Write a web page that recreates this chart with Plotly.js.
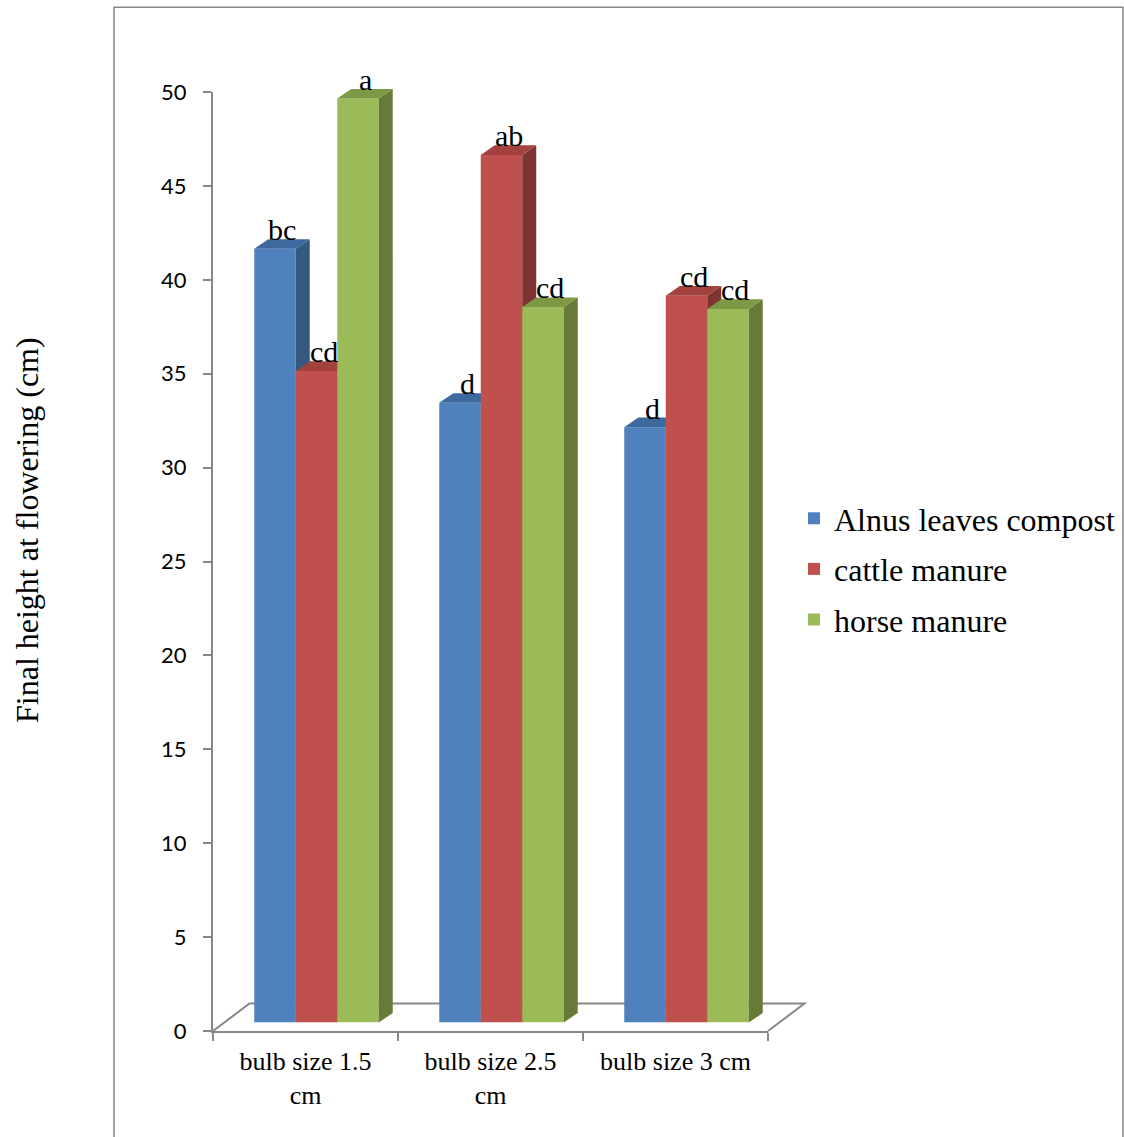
<!DOCTYPE html>
<html>
<head>
<meta charset="utf-8">
<script src="https://cdn.plot.ly/plotly-3.0.1.min.js"></script>
<style>
  html, body { margin: 0; padding: 0; background: #ffffff; }
  #chart { width: 1124px; height: 1137px; }
</style>
</head>
<body>
<div id="chart"></div>
<script>
// Final plant height at flowering (cm) by bulb size and organic amendment
const categories = ["bulb size 1.5 cm", "bulb size 2.5 cm", "bulb size 3 cm"];
const tickLabels = ["bulb size 1.5<br>cm", "bulb size 2.5<br>cm", "bulb size 3 cm"];
const seriesNames = ["Alnus leaves compost", "cattle manure", "horse manure"];

const alnusHeight  = [41.2, 33.0, 31.7];
const cattleHeight = [34.7, 46.2, 38.7];
const horseHeight  = [49.2, 38.1, 38.0];

// mean separation letters shown above each column
const alnusLetters  = ["bc", "d", "d"];
const cattleLetters = ["cd", "ab", "cd"];
const horseLetters  = ["a", "cd", "cd"];

const yTitle = "Final height at flowering (cm)";

// ---- page geometry (px) ----
const W = 1124, H = 1137;
const M = { l: 213, r: 320, t: 83, b: 106, autoexpand: false };
const plotW = W - M.l - M.r;          // whole drawing area, floor included
const plotH = H - M.t - M.b;
const frontW = 555, frontH = 939;     // front wall where the axes sit
const yMax = 50;
const nCat = categories.length;
const barShift = { x: 11, y: 8.4 };   // columns stand part-way into the floor
const depth = { x: 14, y: 9.7 };      // column thickness seen in oblique view
const floorDepth = { x: 36.5, y: 27.5 };
const barWidth = 0.2243;              // in category units

const pxPerX = frontW / nCat;
const pxPerY = frontH / yMax;
const dxu = depth.x / pxPerX;
const dyu = depth.y / pxPerY;

const AXIS_GREY = "#878787";
const SERIF = "Liberation Serif, Times New Roman, serif";

const series = [
  { name: seriesNames[0], values: alnusHeight,  letters: alnusLetters,
    front: "#4F81BD", top: "#3D6A9E", side: "#35587F" },
  { name: seriesNames[1], values: cattleHeight, letters: cattleLetters,
    front: "#C0504D", top: "#A3413E", side: "#7E3432" },
  { name: seriesNames[2], values: horseHeight,  letters: horseLetters,
    front: "#9BBB59", top: "#7E9946", side: "#677A38" }
];

const idx = categories.map((_, i) => i);

// empty carrier so the front axes (ticks, labels) get drawn
const traces = [{
  type: "scatter", mode: "markers", x: idx, y: idx.map(() => null),
  xaxis: "x", yaxis: "y", showlegend: false, hoverinfo: "skip"
}];
const annotations = [];

series.forEach((s, k) => {
  const xa = "x" + (k + 2), ya = "y" + (k + 2);
  const off = (k - 1.5) * barWidth;

  // front faces
  traces.push({
    type: "bar", name: s.name, legendgroup: s.name,
    x: idx, y: s.values, width: barWidth, offset: off,
    marker: { color: s.front, line: { width: 0 } },
    xaxis: xa, yaxis: ya, hoverinfo: "skip"
  });

  // right side and top faces, built from the same values
  const sideX = [], sideY = [], topX = [], topY = [];
  s.values.forEach((v, i) => {
    const xl = i + off, xr = xl + barWidth;
    sideX.push(xr, xr + dxu, xr + dxu, xr, xr, null);
    sideY.push(0, dyu, v + dyu, v, 0, null);
    topX.push(xl, xr, xr + dxu, xl + dxu, xl, null);
    topY.push(v, v, v + dyu, v + dyu, v, null);

    annotations.push({
      xref: "x2", yref: "y2",
      x: xl + barWidth / 2 + dxu / 2, y: v + dyu,
      text: s.letters[i], showarrow: false,
      xanchor: "center", yanchor: "bottom", yshift: -9,
      font: { family: SERIF, size: 30, color: "#000000" }
    });
  });
  traces.push({
    type: "scatter", mode: "lines", x: sideX, y: sideY, fill: "toself",
    fillcolor: s.side, line: { width: 0, color: s.side },
    xaxis: xa, yaxis: ya, showlegend: false, hoverinfo: "skip"
  });
  traces.push({
    type: "scatter", mode: "lines", x: topX, y: topY, fill: "toself",
    fillcolor: s.top, line: { width: 0, color: s.top },
    xaxis: xa, yaxis: ya, showlegend: false, hoverinfo: "skip"
  });
});

// paper coordinates from pixel offsets relative to the front-left floor corner
const px = (dx) => dx / plotW;
const py = (dy) => dy / plotH;

// value-axis title, centred on the chart area
annotations.push({
  xref: "paper", yref: "paper", x: px(-186), y: py(501),
  text: yTitle, textangle: -90, showarrow: false,
  xanchor: "center", yanchor: "middle",
  font: { family: SERIF, size: 32, color: "#000000" }
});

const barDomX = [px(barShift.x), px(barShift.x + frontW)];
const barDomY = [py(barShift.y), py(barShift.y + frontH)];

const hiddenX = (extra) => Object.assign({ range: [-0.5, nCat - 0.5], visible: false, fixedrange: true }, extra);
const hiddenY = (extra) => Object.assign({ range: [0, yMax], visible: false, fixedrange: true }, extra);

const floorPath =
  "M 0 0" +
  " L " + px(floorDepth.x) + " " + py(floorDepth.y) +
  " L " + px(frontW + floorDepth.x) + " " + py(floorDepth.y) +
  " L " + px(frontW) + " 0";

const layout = {
  width: W, height: H,
  margin: M,
  paper_bgcolor: "#ffffff",
  plot_bgcolor: "rgba(0,0,0,0)",
  showlegend: true,
  xaxis: {
    domain: [0, px(frontW)], anchor: "y",
    range: [-0.5, nCat - 0.5],
    tickmode: "array", tickvals: idx, ticktext: tickLabels,
    ticks: "outside", ticklen: 8, tickcolor: "rgba(0,0,0,0)",
    minor: {
      tickmode: "array", tickvals: idx.concat([nCat]).map(i => i - 0.5),
      ticks: "outside", ticklen: 8, tickwidth: 2, tickcolor: AXIS_GREY, showgrid: false
    },
    showline: true, linecolor: AXIS_GREY, linewidth: 2,
    showgrid: false, zeroline: false, fixedrange: true,
    tickfont: { family: SERIF, size: 26, color: "#000000" },
    ticklabelstandoff: -2
  },
  yaxis: {
    domain: [0, py(frontH)], anchor: "x",
    range: [0, yMax], tickmode: "linear", tick0: 0, dtick: 5,
    ticks: "outside", ticklen: 8, tickwidth: 2, tickcolor: AXIS_GREY,
    showline: true, linecolor: AXIS_GREY, linewidth: 2,
    showgrid: false, zeroline: false, fixedrange: true,
    tickfont: { family: "Lato, Carlito, sans-serif", size: 22, color: "#000000" },
    ticklabelstandoff: 12
  },
  xaxis2: hiddenX({ domain: barDomX, anchor: "y2" }),
  yaxis2: hiddenY({ domain: barDomY, anchor: "x2" }),
  xaxis3: hiddenX({ overlaying: "x2", anchor: "y3" }),
  yaxis3: hiddenY({ overlaying: "y2", anchor: "x3" }),
  xaxis4: hiddenX({ overlaying: "x2", anchor: "y4" }),
  yaxis4: hiddenY({ overlaying: "y2", anchor: "x4" }),
  legend: {
    x: px(581), xanchor: "left",
    y: py(462), yanchor: "middle",
    traceorder: "grouped", tracegroupgap: 6,
    bgcolor: "rgba(0,0,0,0)",
    font: { family: SERIF, size: 32, color: "#000000" }
  },
  shapes: [
    { type: "path", xref: "paper", yref: "paper", layer: "below",
      path: floorPath, line: { color: AXIS_GREY, width: 2 } },
    { type: "rect", xref: "paper", yref: "paper", layer: "below",
      x0: px(-99), x1: px(910), y0: py(-200), y1: py(1023.7),
      line: { color: AXIS_GREY, width: 1.5 }, fillcolor: "rgba(0,0,0,0)" }
  ],
  annotations: annotations
};

Plotly.newPlot("chart", traces, layout, { displayModeBar: false, staticPlot: true });
</script>
</body>
</html>
